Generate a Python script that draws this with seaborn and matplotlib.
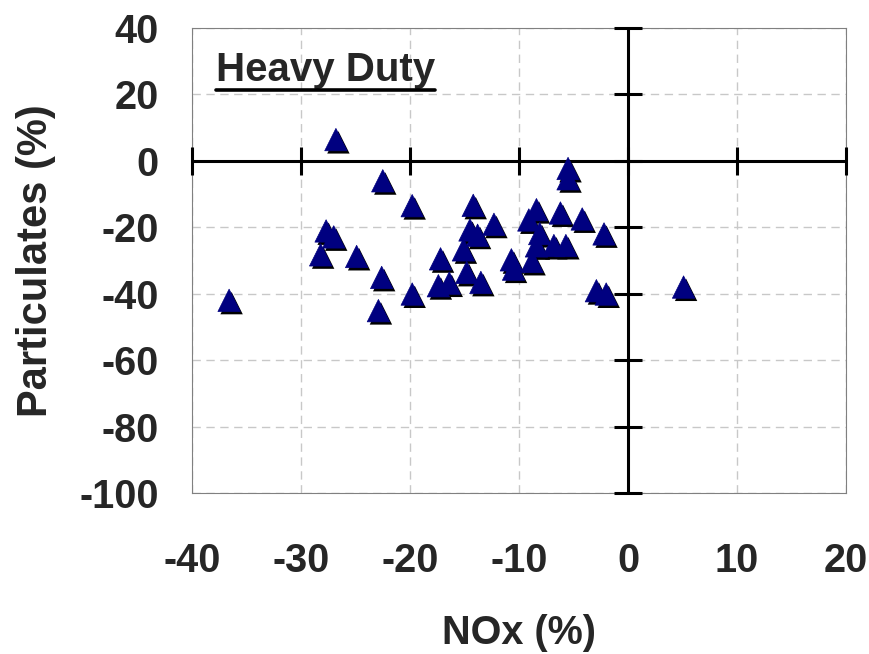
import matplotlib
matplotlib.use("Agg")
import matplotlib.pyplot as plt
import matplotlib.patheffects as pe
from matplotlib.lines import Line2D
import seaborn as sns
import pandas as pd

# ---- data ----
nox = [-36.6, -26.8, -22.5, -19.8, -27.7, -27.0, -28.2, -24.9, -22.6, -19.8, -22.9,
       -14.2, -12.3, -14.5, -13.8, -15.1, -17.2, -14.8, -17.4, -16.4, -13.5,
       -5.5, -5.5, -8.4, -9.1, -6.2, -4.2, -2.2, -8.1, -8.4, -6.8, -5.7,
       -10.7, -10.5, -8.8, -2.9, -2.0, 5.1]
pm = [-42.0, 6.4, -6.0, -13.5, -21.1, -22.9, -28.3, -28.8, -35.1, -40.1, -45.1,
      -13.4, -19.1, -20.8, -22.4, -26.8, -29.5, -33.6, -37.6, -36.8, -36.6,
      -2.3, -5.4, -14.7, -17.8, -15.7, -17.5, -22.0, -21.9, -25.6, -25.5, -25.5,
      -29.8, -32.6, -30.3, -39.1, -40.1, -38.0]
x_ticks = [-40, -30, -20, -10, 0, 10, 20]
y_ticks = [40, 20, 0, -20, -40, -60, -80, -100]
x_label = "NOx (%)"
y_label = "Particulates (%)"
panel_title = "Heavy Duty"

df = pd.DataFrame({"NOx": nox, "PM": pm})

sns.set_style("white")
plt.rcParams["font.family"] = ["Liberation Sans", "DejaVu Sans"]
plt.rcParams["font.weight"] = "bold"

fig = plt.figure(figsize=(8.69, 6.54), dpi=100)
ax = fig.add_axes([0.221, 0.2462, 0.9735 - 0.221, 0.9572 - 0.2462])

ax.set_xlim(x_ticks[0], x_ticks[-1])
ax.set_ylim(min(y_ticks), max(y_ticks))
ax.set_xticks(x_ticks)
ax.set_yticks(y_ticks)
ax.set_xticklabels([str(v) for v in x_ticks], fontsize=28.5, fontweight="bold")
ax.set_yticklabels([str(v) for v in y_ticks], fontsize=28.5, fontweight="bold")
ax.tick_params(axis="x", length=0, pad=35)
ax.tick_params(axis="y", length=0, pad=24)

ax.grid(True, color="#c8c8c8", linestyle=(0, (6, 4)), linewidth=1.0)
ax.set_axisbelow(True)
for s in ax.spines.values():
    s.set_color("#808080")
    s.set_linewidth(0.8)

# crossing axes through zero, with tick marks at the major ticks
ax.axhline(0, color="black", linewidth=2.2, zorder=3)
ax.axvline(0, color="black", linewidth=2.2, zorder=3)
ax.plot(x_ticks, [0] * len(x_ticks), linestyle="none", marker="|",
        markersize=20, markeredgewidth=2.2, color="black", zorder=3, clip_on=False)
ax.plot([0] * len(y_ticks), y_ticks, linestyle="none", marker="_",
        markersize=20, markeredgewidth=2.2, color="black", zorder=3, clip_on=False)

sns.scatterplot(data=df, x="NOx", y="PM", ax=ax, marker="^", s=260,
                color="#000080", edgecolor="#000080", linewidth=0.5,
                zorder=5, legend=False)
for coll in ax.collections:
    coll.set_path_effects([pe.SimplePatchShadow(offset=(1.8, -2.0),
                                                shadow_rgbFace="black", alpha=1.0),
                           pe.Normal()])

ax.set_xlabel(x_label, fontsize=28.5, fontweight="bold", labelpad=25)
ax.set_ylabel(y_label, fontsize=30, fontweight="bold", labelpad=17)

t = ax.text(0.037, 0.886, panel_title, transform=ax.transAxes, fontsize=29,
            fontweight="bold", ha="left", va="baseline")
fig.canvas.draw()
bb = t.get_window_extent(renderer=fig.canvas.get_renderer())
inv = fig.transFigure.inverted()
(x0, y0), (x1, y1) = inv.transform([(bb.x0, bb.y0), (bb.x1, bb.y0)])
fig.add_artist(Line2D([x0, x1], [y0 - 0.002, y0 - 0.002], color="black",
                      linewidth=2.6, transform=fig.transFigure))

fig.savefig("out.png", dpi=100)
